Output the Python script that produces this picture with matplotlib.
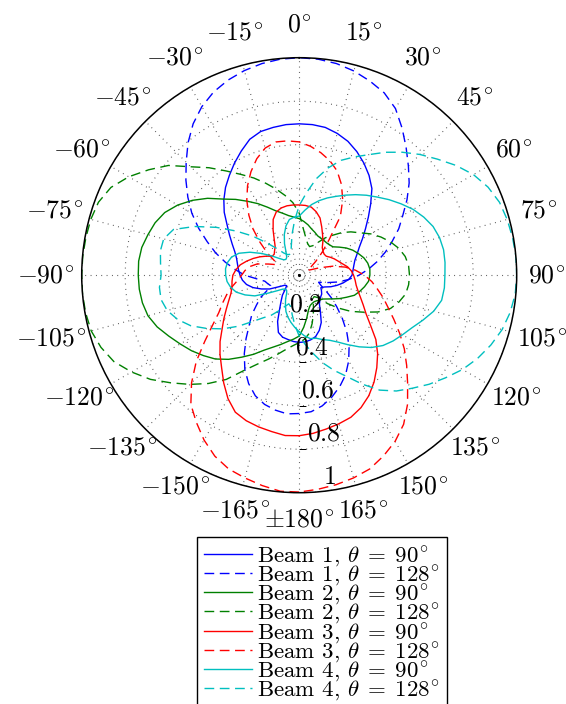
import numpy as np
import matplotlib
matplotlib.use("Agg")
import matplotlib.pyplot as plt
from matplotlib.transforms import ScaledTranslation

plt.rcParams["font.family"] = "cmr10"
plt.rcParams["mathtext.fontset"] = "cm"
plt.rcParams["axes.unicode_minus"] = False

# ---------------------------------------------------------------------------
# Data: normalised beam patterns, read every 5 deg from -180 to 180
# (angle measured clockwise from the top)
# ---------------------------------------------------------------------------
theta_deg = list(range(-180, 181, 5))

beam1_90 = [0.309, 0.306, 0.300, 0.295, 0.280, 0.235, 0.180, 0.145, 0.120, 0.090,
            0.075, 0.080, 0.105, 0.150, 0.185, 0.220, 0.246, 0.262, 0.272, 0.280,
            0.288, 0.298, 0.315, 0.340, 0.370, 0.405, 0.450, 0.490, 0.527, 0.560,
            0.595, 0.630, 0.665, 0.684, 0.690, 0.695, 0.696, 0.695, 0.690, 0.675,
            0.655, 0.627, 0.595, 0.560, 0.520, 0.465, 0.415, 0.372, 0.336, 0.305,
            0.283, 0.265, 0.255, 0.248, 0.243, 0.228, 0.205, 0.180, 0.155, 0.128,
            0.115, 0.125, 0.135, 0.140, 0.148, 0.162, 0.195, 0.240, 0.270, 0.292,
            0.302, 0.308, 0.309]
beam1_128 = [0.636, 0.640, 0.630, 0.615, 0.590, 0.550, 0.500, 0.440, 0.380, 0.325,
             0.285, 0.240, 0.205, 0.160, 0.140, 0.150, 0.160, 0.195, 0.250, 0.295,
             0.345, 0.398, 0.450, 0.510, 0.570, 0.625, 0.680, 0.735, 0.795, 0.850,
             0.895, 0.930, 0.955, 0.974, 0.988, 0.997, 1.000, 0.997, 0.988, 0.972,
             0.950, 0.925, 0.885, 0.825, 0.765, 0.710, 0.660, 0.605, 0.550, 0.505,
             0.455, 0.410, 0.365, 0.320, 0.275, 0.228, 0.180, 0.132, 0.095, 0.110,
             0.140, 0.180, 0.225, 0.280, 0.340, 0.400, 0.455, 0.505, 0.545, 0.580,
             0.610, 0.630, 0.636]
beam2_90 = [0.280, 0.295, 0.310, 0.330, 0.352, 0.380, 0.420, 0.460, 0.505, 0.545,
            0.575, 0.605, 0.632, 0.662, 0.695, 0.720, 0.732, 0.738, 0.740, 0.741,
            0.735, 0.720, 0.705, 0.682, 0.645, 0.600, 0.550, 0.495, 0.455, 0.415,
            0.380, 0.345, 0.315, 0.295, 0.278, 0.268, 0.260, 0.248, 0.235, 0.220,
            0.210, 0.200, 0.197, 0.196, 0.195, 0.197, 0.203, 0.225, 0.250, 0.272,
            0.290, 0.308, 0.320, 0.326, 0.325, 0.320, 0.305, 0.288, 0.270, 0.240,
            0.215, 0.190, 0.170, 0.155, 0.148, 0.143, 0.140, 0.142, 0.148, 0.165,
            0.200, 0.240, 0.280]
beam2_128 = [0.310, 0.325, 0.346, 0.375, 0.410, 0.450, 0.505, 0.585, 0.650, 0.710,
             0.770, 0.835, 0.890, 0.940, 0.970, 0.990, 0.997, 1.000, 1.000, 0.999,
             0.996, 0.992, 0.982, 0.955, 0.905, 0.845, 0.785, 0.705, 0.645, 0.585,
             0.535, 0.493, 0.450, 0.410, 0.372, 0.335, 0.285, 0.215, 0.175, 0.150,
             0.140, 0.150, 0.175, 0.210, 0.240, 0.277, 0.310, 0.340, 0.380, 0.415,
             0.447, 0.475, 0.495, 0.505, 0.507, 0.505, 0.497, 0.475, 0.447, 0.400,
             0.340, 0.290, 0.235, 0.185, 0.135, 0.120, 0.125, 0.155, 0.190, 0.230,
             0.270, 0.295, 0.310]
beam3_90 = [0.738, 0.740, 0.730, 0.722, 0.712, 0.695, 0.655, 0.605, 0.555, 0.515,
            0.475, 0.433, 0.400, 0.370, 0.345, 0.325, 0.314, 0.310, 0.305, 0.292,
            0.275, 0.250, 0.225, 0.200, 0.175, 0.152, 0.150, 0.160, 0.172, 0.200,
            0.240, 0.283, 0.309, 0.320, 0.324, 0.324, 0.323, 0.322, 0.318, 0.302,
            0.280, 0.245, 0.215, 0.190, 0.165, 0.155, 0.150, 0.152, 0.165, 0.178,
            0.190, 0.205, 0.225, 0.240, 0.250, 0.258, 0.266, 0.280, 0.300, 0.325,
            0.355, 0.400, 0.460, 0.510, 0.555, 0.600, 0.640, 0.672, 0.695, 0.707,
            0.718, 0.730, 0.738]
beam3_128 = [0.997, 0.997, 0.982, 0.965, 0.948, 0.918, 0.875, 0.825, 0.775, 0.700,
             0.618, 0.530, 0.460, 0.408, 0.375, 0.345, 0.315, 0.285, 0.265, 0.250,
             0.230, 0.200, 0.150, 0.115, 0.130, 0.180, 0.235, 0.300, 0.360, 0.420,
             0.475, 0.525, 0.570, 0.605, 0.622, 0.620, 0.613, 0.595, 0.572, 0.545,
             0.510, 0.460, 0.400, 0.330, 0.215, 0.150, 0.100, 0.065, 0.045, 0.060,
             0.100, 0.160, 0.215, 0.260, 0.300, 0.335, 0.365, 0.400, 0.435, 0.480,
             0.533, 0.590, 0.645, 0.705, 0.775, 0.837, 0.882, 0.917, 0.948, 0.965,
             0.978, 0.988, 0.997]
beam4_90 = [0.260, 0.240, 0.220, 0.200, 0.178, 0.150, 0.125, 0.100, 0.090, 0.090,
            0.100, 0.125, 0.165, 0.225, 0.265, 0.300, 0.320, 0.333, 0.338, 0.340,
            0.335, 0.322, 0.295, 0.250, 0.200, 0.155, 0.120, 0.100, 0.095, 0.100,
            0.120, 0.160, 0.200, 0.235, 0.260, 0.268, 0.272, 0.300, 0.330, 0.355,
            0.378, 0.400, 0.425, 0.452, 0.480, 0.508, 0.540, 0.572, 0.605, 0.632,
            0.655, 0.668, 0.674, 0.673, 0.670, 0.670, 0.665, 0.640, 0.605, 0.572,
            0.548, 0.527, 0.503, 0.470, 0.430, 0.390, 0.355, 0.330, 0.315, 0.300,
            0.296, 0.280, 0.260]
beam4_128 = [0.280, 0.230, 0.185, 0.150, 0.140, 0.160, 0.190, 0.225, 0.255, 0.300,
             0.365, 0.430, 0.490, 0.550, 0.595, 0.628, 0.645, 0.645, 0.635, 0.640,
             0.648, 0.645, 0.615, 0.530, 0.440, 0.354, 0.280, 0.210, 0.160, 0.125,
             0.110, 0.105, 0.110, 0.140, 0.190, 0.250, 0.320, 0.380, 0.450, 0.510,
             0.562, 0.600, 0.640, 0.690, 0.738, 0.785, 0.830, 0.880, 0.925, 0.958,
             0.980, 0.990, 0.996, 1.000, 1.000, 0.997, 0.985, 0.966, 0.938, 0.905,
             0.867, 0.822, 0.780, 0.735, 0.695, 0.645, 0.578, 0.513, 0.465, 0.417,
             0.365, 0.320, 0.280]

series = [
    ("Beam 1", "90", beam1_90, "#0000ff", "-"),
    ("Beam 1", "128", beam1_128, "#0000ff", "--"),
    ("Beam 2", "90", beam2_90, "#008000", "-"),
    ("Beam 2", "128", beam2_128, "#008000", "--"),
    ("Beam 3", "90", beam3_90, "#ff0000", "-"),
    ("Beam 3", "128", beam3_128, "#ff0000", "--"),
    ("Beam 4", "90", beam4_90, "#00bfbf", "-"),
    ("Beam 4", "128", beam4_128, "#00bfbf", "--"),
]

theta_ticks = list(range(-165, 181, 15))
theta_labels = [("$\\pm180^{\\!\\circ}$" if t == 180 else f"${t}^{{\\!\\circ}}$") for t in theta_ticks]
r_ticks = [0.2, 0.4, 0.6, 0.8, 1.0]
r_labels = ["$0.2$", "$0.4$", "$0.6$", "$0.8$", "$1$"]

# ---------------------------------------------------------------------------
# Figure
# ---------------------------------------------------------------------------
W, H, DPI = 566, 704, 100
fig = plt.figure(figsize=(W / DPI, H / DPI), dpi=DPI)
ax = fig.add_axes([81.7 / W, 1 - 492.7 / H, 435 / W, 435 / H], projection="polar")
ax.set_theta_zero_location("N")
ax.set_theta_direction(-1)

th = np.deg2rad(theta_deg)
for beam, ang, vals, color, style in series:
    assert len(vals) == len(th), beam
    ls = "-" if style == "-" else (0, (7, 4))
    ax.plot(th, vals, color=color, linestyle=ls, linewidth=1.0,
            label=f"{beam}, $\\theta\\;=\\;{ang}^{{\\!\\circ}}$")

ax.set_xticks(np.deg2rad(np.mod(theta_ticks, 360)))
ax.set_xticklabels([])
ax.set_xlim(0, 2 * np.pi)
ax.set_ylim(0, 1)
ax.set_yticks(r_ticks)
ax.set_yticklabels([])
ax.tick_params(axis="y", length=0)
ax.tick_params(axis="x", direction="in", length=7, width=0.9, color="k")
ax.grid(True, color="0.3", linestyle=(0, (0.8, 4)), linewidth=0.8)
ax.spines["polar"].set_linewidth(1.1)
ax.spines["polar"].set_color("k")
ax.plot([0], [0], "k.", ms=2.5)

# small radial tick marks on the 180 deg spoke, pointing right
ax.plot(np.full(len(r_ticks) - 1, np.pi), r_ticks[:-1], linestyle="none",
        marker=[(0, 0), (1, 0)], markersize=10, markeredgewidth=0.6, color="k")

# angle labels placed just outside the rim
texts = []
for t, lab in zip(theta_ticks, theta_labels):
    texts.append((t, ax.text(np.deg2rad(t), 1.0, lab, ha="center", va="center",
                             fontsize=18.5, clip_on=False)))
fig.canvas.draw()
for t, txt in texts:
    w = txt.get_window_extent().width
    ux, uy = np.sin(np.deg2rad(t)), np.cos(np.deg2rad(t))
    dx = ux * (30 + max(0.0, w - 37) * 0.3 * abs(ux) ** 3)
    dy = uy * (33.5 if uy > 0 else 26.5)
    txt.set_transform(ax.transData + ScaledTranslation(dx / DPI, dy / DPI, fig.dpi_scale_trans))

# radial labels along a line just right of the bottom
for rv, lab in zip(r_ticks, r_labels):
    ax.text(np.deg2rad(172.2), rv, lab, ha="center", va="center", fontsize=18.5,
            transform=ax.transData + ScaledTranslation(1 / DPI, 13.8 / DPI, fig.dpi_scale_trans))

leg = fig.legend(loc="upper center", bbox_to_anchor=(322 / W, 1 - 537 / H),
                 borderaxespad=0, fontsize=16.5, handlelength=2.1, handletextpad=0.2,
                 labelspacing=-0.25, borderpad=0.3, fancybox=False, framealpha=1,
                 edgecolor="k")
leg.get_frame().set_linewidth(1.0)

fig.savefig("out.png", dpi=DPI)
